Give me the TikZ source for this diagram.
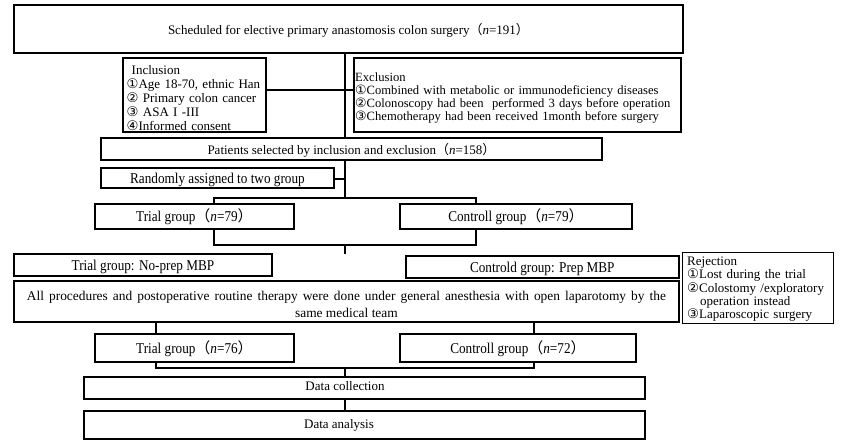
\documentclass[tikz,border=0pt]{standalone}
\usepackage{fontspec}
\setmainfont{Liberation Serif}
\newfontfamily\condfnt[FakeStretch=0.88]{Liberation Serif}
\newfontfamily\cjkfnt{Noto Sans CJK SC}
\newfontfamily\circfnt[Scale=1.02]{DejaVu Sans}
\newcommand\cn[1]{{\circfnt #1}}
\newcommand\flp{{\cjkfnt （}}
\newcommand\frp{{\cjkfnt ）}}
\newcommand\nn{\textit{n}}
\begin{document}
\begin{tikzpicture}[x=1pt,y=-1pt,
  box/.style={draw, line width=1.9pt, inner sep=0pt, anchor=north west,
    text height=11pt, text depth=0pt, font=\fontsize{13}{14}\selectfont},
  grp/.style={box, font=\condfnt\fontsize{15}{16}\selectfont},
  txt/.style={inner sep=0pt, font=\fontsize{13}{14}\selectfont},
  mtxt/.style={inner sep=0pt, align=left, anchor=west},
  conn/.style={line width=1.7pt}]
\useasboundingbox[fill=white] (0,0) rectangle (847,442);

\node[box, minimum width=669, minimum height=48, text height=12pt] (top) at (13,4)
  {Scheduled for elective primary anastomosis colon surgery\flp\nn=191\frp};

\node[box, minimum width=143, minimum height=74] (inc) at (122,57) {};
\node[mtxt, text width=140pt, font=\fontsize{13}{14}\selectfont] (inct) at ([xshift=4.5pt,yshift=-3pt]inc.west)
  {\hspace*{5pt}Inclusion\\\cn{①}Age 18-70, ethnic Han\\\cn{②} Primary colon cancer\\\cn{③} ASA I -III\\\cn{④}Informed consent};

\node[box, minimum width=327, minimum height=74] (exc) at (353,57) {};
\node[mtxt, text width=340pt, font=\fontsize{12.6}{12.8}\selectfont] (exct) at ([xshift=2pt,yshift=-3pt]exc.west)
  {Exclusion\\\cn{①}Combined with metabolic or immunodeficiency diseases\\\cn{②}Colonoscopy had been\ \ performed 3 days before operation\\\cn{③}Chemotherapy had been received 1month before surgery};

\node[box, minimum width=501, minimum height=22] (pat) at (100,137)
  {Patients selected by inclusion and exclusion\flp\nn=158\frp};
\node[grp, minimum width=233, minimum height=20] (rand) at (100,167)
  {Randomly assigned to two group};

\node[grp, minimum width=199, minimum height=25] (t79) at (94,203) {Trial group\flp\nn=79\frp};
\node[grp, minimum width=232, minimum height=25] (c79) at (399,203) {Controll group\flp\nn=79\frp};

\node[grp, minimum width=258, minimum height=22] (np) at (13,253) {Trial group: No-prep MBP};
\node[grp, minimum width=273, minimum height=22, line width=1.6pt] (cp) at (405,255) {Controld group: Prep MBP};

\node[box, minimum width=151, minimum height=71, line width=1.3pt] (rej) at (682,252) {};
\node[mtxt, text width=145pt, font=\fontsize{13}{13.4}\selectfont] (rejt) at ([xshift=5pt,yshift=-1pt]rej.west)
  {Rejection\\\cn{①}Lost during the trial\\\cn{②}Colostomy /exploratory\\\hspace*{13pt}operation instead\\\cn{③}Laparoscopic surgery};

\node[box, minimum width=665, minimum height=41] (proc) at (13,280) {};
\node[inner sep=0pt, align=center, font=\fontsize{13.4}{17}\selectfont] (proct) at ([yshift=-3pt]proc.center)
  {\makebox[639pt][s]{All procedures and postoperative routine therapy were done under general anesthesia with open laparotomy by the}\\same medical team};

\node[grp, minimum width=199, minimum height=28] (t76) at (94,333) {Trial group\flp\nn=76\frp};
\node[grp, minimum width=236, minimum height=28] (c72) at (399,333) {Controll group\flp\nn=72\frp};

\node[box, minimum width=561, minimum height=22] (dc) at (83,376) {};
\node[txt, anchor=base] (dct) at (345,390.5) {Data collection};
\node[box, minimum width=561, minimum height=28] (da) at (83,410) {};
\node[txt, anchor=base] (dat) at (339,428) {Data analysis};

% connectors
\coordinate (vx) at (345,0);
\draw[conn] (top.south -| vx) -- (pat.north -| vx);
\draw[conn] ([yshift=5pt]inc.east) -- ([yshift=5pt]inc.east -| exc.west);
\draw[conn] ([yshift=-1pt]rand.east) -- ([yshift=-1pt]rand.east -| vx);
\coordinate (j1) at (345,198);
\coordinate (L1) at (214,198);
\coordinate (R1) at (476,198);
\draw[conn] (pat.south -| vx) -- (j1);
\draw[conn] (t79.north -| L1) -- (L1) -- (R1) -- (c79.north -| R1);
\coordinate (L2) at (214,245);
\coordinate (R2) at (476,245);
\coordinate (j2) at (345,245);
\coordinate (e2) at (345,254);
\draw[conn] (t79.south -| L2) -- (L2) -- (R2) -- (c79.south -| R2);
\draw[conn] (j2) -- (e2);
\coordinate (L3) at (156,368);
\coordinate (R3) at (534,368);
\coordinate (j3) at (345,368);
\draw[conn] (proc.south -| L3) -- (t76.north -| L3);
\draw[conn] (proc.south -| R3) -- (c72.north -| R3);
\draw[conn] (t76.south -| L3) -- (L3) -- (R3) -- (c72.south -| R3);
\draw[conn] (j3) -- (dc.north -| j3);
\draw[conn] (dc.south -| j3) -- (da.north -| j3);
\end{tikzpicture}
\end{document}
